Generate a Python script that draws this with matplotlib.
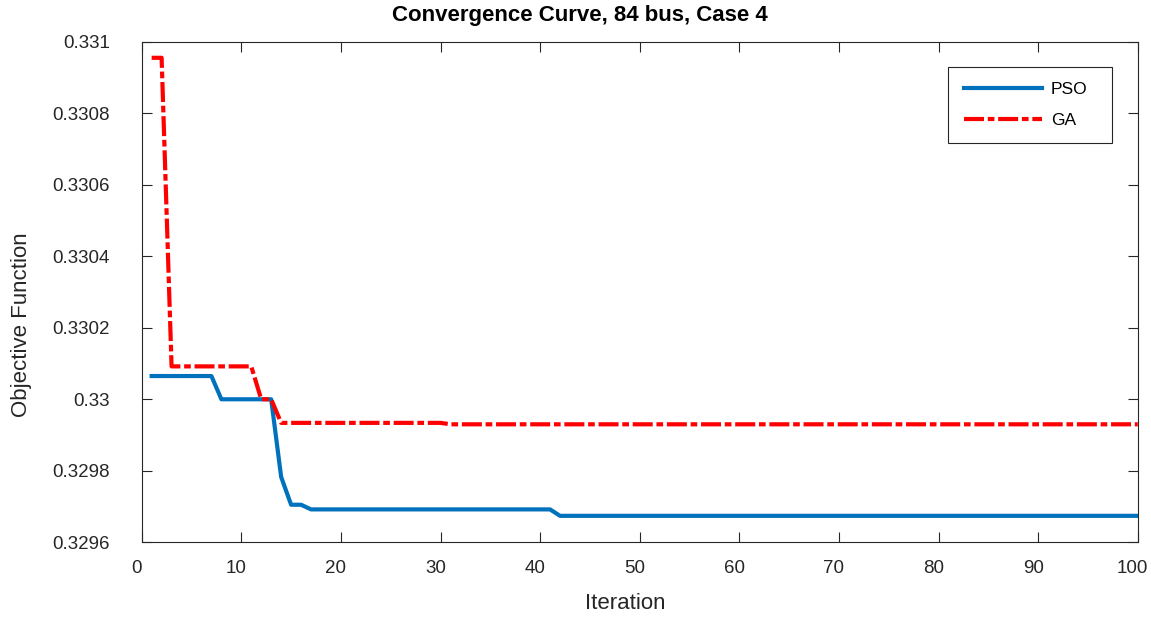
import matplotlib.pyplot as plt
from matplotlib.patches import Rectangle
from matplotlib.transforms import ScaledTranslation

plt.rcParams['font.family'] = ['Liberation Sans', 'DejaVu Sans']

iterations = list(range(1, 101))

# piecewise-constant best-so-far values
pso = ([0.330065] * 7 + [0.33] * 6 + [0.329783] + [0.329705] * 2
       + [0.329692] * 25 + [0.329674] * 59)
ga = ([0.330955] * 2 + [0.330092] * 9 + [0.33] * 2 + [0.329934] * 17
      + [0.32993] * 70)

x_ticks = list(range(0, 101, 10))
y_ticks = [0.3296, 0.3298, 0.33, 0.3302, 0.3304, 0.3306, 0.3308, 0.331]
y_labels = ['0.3296', '0.3298', '0.33', '0.3302', '0.3304', '0.3306', '0.3308', '0.331']

fig = plt.figure(figsize=(11.51, 6.18), dpi=100)
ax = fig.add_axes([0.1231, 0.1225, 0.8654, 0.81])

ax.plot(iterations, pso, color='#0072BD', lw=3.0, label='PSO')
ax.plot(iterations, ga, color='#FF0000', lw=3.0, dashes=(4.8, 0.9, 1.6, 0.9),
        label='GA')

ax.set_xlim(0, 100)
ax.set_ylim(0.3296, 0.331)
ax.set_xticks(x_ticks)
ax.set_yticks(y_ticks)
ax.set_yticklabels(y_labels)
ax.tick_params(direction='in', length=7, width=0.8, top=True, right=True,
               labelsize=13.5, colors='#262626')
ax.tick_params(axis='x', pad=13)
ax.tick_params(axis='y', pad=23)
for s in ax.spines.values():
    s.set_color('#262626')
    s.set_linewidth(0.8)

# the text in the reference sits a few pixels left of the ticks
shift = ScaledTranslation(-5 / 100, 0, fig.dpi_scale_trans)
for lab in ax.get_xticklabels():
    lab.set_transform(lab.get_transform() + shift)

ax.set_xlabel('Iteration', fontsize=16, color='#262626', va='center')
ax.xaxis.set_label_coords(0.4857, -0.1213)
ax.set_ylabel('Objective Function', fontsize=16, color='#262626', va='center')
ax.yaxis.set_label_coords(-0.1207, 0.434)
fig.text(0.504, 0.9757, 'Convergence Curve, 84 bus, Case 4', fontsize=16,
         fontweight='bold', ha='center', va='center')

# legend box drawn separately so its padding can be uneven like the original
ax.add_patch(Rectangle((0.8098, 0.797), 0.1647, 0.1518, transform=ax.transAxes,
                       facecolor='white', edgecolor='#262626', lw=0.8,
                       zorder=4.9))
ax.legend(loc='center left', bbox_to_anchor=(0.8256, 0.8736),
          borderaxespad=0, borderpad=0, fontsize=12.5, handlelength=4.5,
          handletextpad=0.5, labelspacing=0.92, frameon=False)

fig.savefig('out.png', dpi=100)
